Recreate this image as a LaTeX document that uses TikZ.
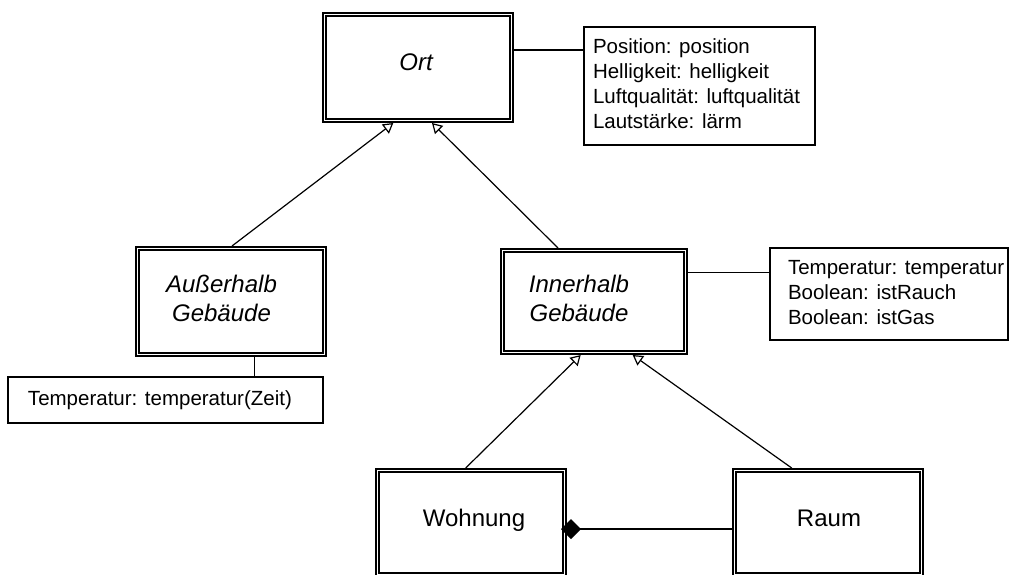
\documentclass[tikz,border=0pt]{standalone}
\usepackage{fontspec}
\setmainfont{Liberation Sans}
\usetikzlibrary{arrows.meta,calc}
\newcommand\attrbox[3]{\makebox[#1][l]{\hspace{#2}\raisebox{-1.5pt}{\begin{tabular}{@{}l@{}}#3\end{tabular}}}}
\tikzset{
  cls/.style={draw, double, double distance=1.5pt, line width=1.8pt, inner sep=0pt, outer sep=2.55pt},
  attr/.style={draw, line width=1.2pt, inner sep=0pt, font=\fontsize{20.5}{25}\selectfont},
  lbl/.style={inner sep=0pt, font=\fontsize{24}{29}\selectfont, align=center},
  conn/.style={line width=1.2pt},
  inherit/.style={conn, -{Triangle[open, length=10pt, width=11.5pt]}},
  comp/.style={conn, {Diamond[length=20pt, width=20pt]}-},
}
\begin{document}
\begin{tikzpicture}[x=1pt, y=-1pt]
\useasboundingbox (0,0) rectangle (1015,574);
\clip (0,0) rectangle (1015,574);

% class boxes
\node[cls, minimum width=186.9pt, minimum height=105.9pt] (ort) at (418,67.5) {};
\node[cls, minimum width=186.9pt, minimum height=105.9pt] (aussen) at (231,301.5) {};
\node[cls, minimum width=182.9pt, minimum height=101.9pt] (innen) at (594,301.5) {};
\node[cls, minimum width=186.9pt, minimum height=103.9pt] (wohnung) at (471,522.5) {};
\node[cls, minimum width=186.9pt, minimum height=103.9pt] (raum) at (828,522.5) {};

% labels
\node[lbl, font=\fontsize{24}{29}\selectfont\itshape, anchor=base] (ortL) at (416,70) {Ort};
\node[lbl, font=\fontsize{24}{29}\selectfont\itshape] (aussenL) at (221.5,298.5) {Außerhalb\\Gebäude};
\node[lbl, font=\fontsize{24}{29}\selectfont\itshape] (innenL) at (579,298.5) {Innerhalb\\Gebäude};
\node[lbl, anchor=base] (wohnungL) at (474,526.7) {Wohnung};
\node[lbl, anchor=base] (raumL) at (829,526) {Raum};

% attribute boxes
\node[attr, minimum width=231pt, minimum height=118pt] (ortattr) at (699.5,86)
  {\attrbox{231pt}{9pt}{Position: position\\Helligkeit: helligkeit\\Luftqualität: luftqualität\\Lautstärke: lärm}};
\node[attr, minimum width=238pt, minimum height=92pt] (innattr) at (889,294)
  {\attrbox{238pt}{18pt}{Temperatur: temperatur\\Boolean: istRauch\\Boolean: istGas}};
\node[attr, minimum width=315pt, minimum height=46pt] (ausattr) at (165.5,400)
  {\attrbox{315pt}{20pt}{Temperatur: temperatur(Zeit)}};

% attribute connectors
\coordinate (ortR) at ($(ort.east)+(0,-17.5)$);
\coordinate (ausB) at ($(aussen.south)+(23.3,0)$);
\coordinate (innR) at ($(innen.east)+(0,-29.2)$);
\draw[conn] (ortR) -- (ortR -| ortattr.west);
\draw[conn] (ausB) -- (ausB |- ausattr.north);
\draw[conn] (innR) -- (innR -| innattr.west);

% inheritance
\draw[inherit] ($(aussen.north)+(1,0)$) -- ($(ort.south)+(-24.7,0)$);
\draw[inherit] ($(innen.north)+(-36,0)$) -- ($(ort.south)+(14,0)$);
\draw[inherit] ($(wohnung.north)+(-5.3,0)$) -- ($(innen.south)+(-13.3,0)$);
\draw[inherit] ($(raum.north)+(-36.3,0)$) -- ($(innen.south)+(38.7,0)$);

% composition
\coordinate (wohC) at ($(wohnung.east)+(-6,6.5)$);
\draw[comp] (wohC) -- (wohC -| raum.west);
\end{tikzpicture}
\end{document}
